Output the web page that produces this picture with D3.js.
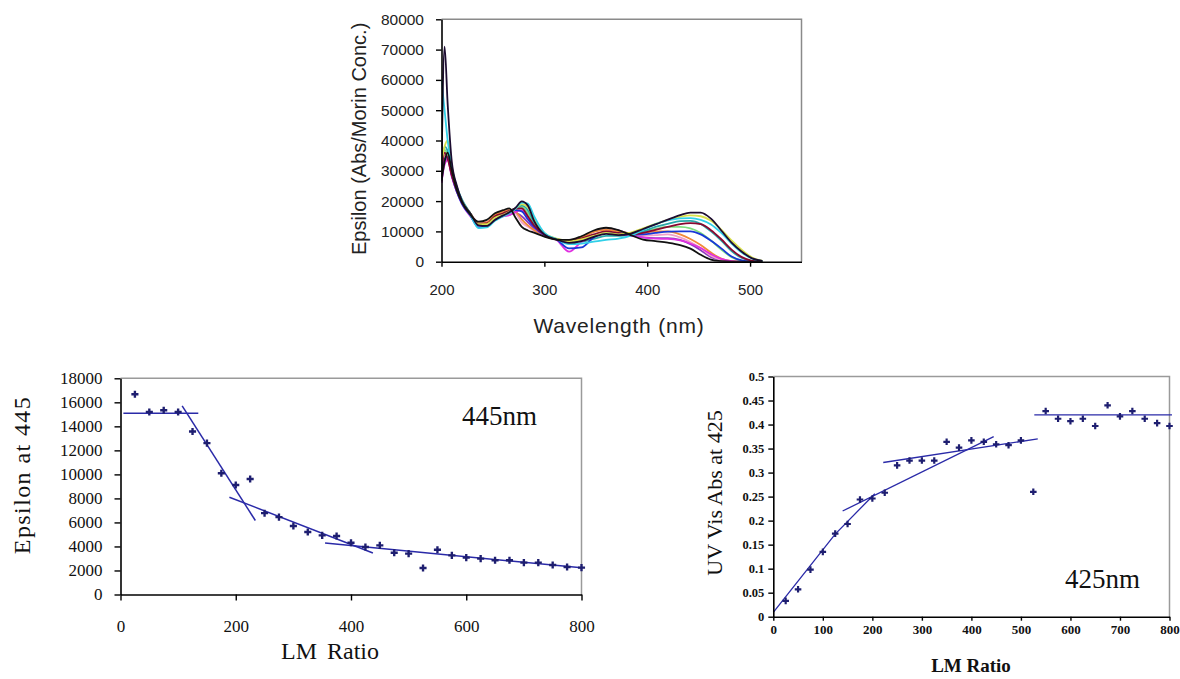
<!DOCTYPE html>
<html>
<head>
<meta charset="utf-8">
<script src="https://cdn.jsdelivr.net/npm/d3@7"></script>
<style>
  html, body { margin: 0; padding: 0; background: #fff; }
  svg { display: block; }
</style>
</head>
<body>
<script>
// ---------- Spectra (top panel) ----------
const wavelengths = [200,203,206,210,215,220,228,236,244,252,260,266,272,278,284,290,300,312,324,336,348,360,372,384,396,408,420,432,442,452,462,472,482,492,502,512];

const specPurple  = [26000,33000,34000,28500,23000,19500,15500,12500,13000,14500,15000,15500,16000,15000,13000,11000,8600,7400,6900,8000,10000,11000,10300,9000,8000,7800,7800,7200,5800,3800,1500,400,0,0,0,0];
const specPink    = [27500,35000,35500,30000,24000,20000,16000,13000,13100,15500,16500,17200,16000,13000,11500,10200,8500,7300,7100,8200,10000,11000,10200,9300,8600,8800,9000,8000,6500,4500,2000,600,100,0,0,0];
const specOrange  = [28000,36000,35500,29500,24000,20000,16000,12600,13000,15500,16500,17000,16500,14000,12000,10500,8600,7300,7000,8000,9800,10500,10000,9500,9600,10000,10000,9000,7500,5500,3000,1000,200,0,0,0];
const specGreen   = [28500,37000,35000,29500,24000,20000,16000,12200,12300,14800,15800,16800,17500,18000,16000,12500,9000,7400,6900,7500,8800,9800,9300,9200,9800,10800,11500,11500,11000,9500,7000,4000,1500,300,0,0];
const specTeal    = [29000,38000,36500,30000,24500,20500,16000,12000,12000,14500,15500,16500,17500,18500,17000,13000,9200,7400,6600,6700,7500,8500,8500,9000,10000,11500,12500,13400,13500,12500,10000,7000,3500,1200,200,0];
const specMagenta = [26000,32000,33500,28000,23000,19000,15000,12000,12400,14000,15000,15400,16400,17000,14500,11500,8700,7200,3300,6500,8500,9500,9200,8500,8000,7600,7500,7000,6000,4500,2500,900,200,0,0,0];
const specBlue    = [27000,34000,34500,28500,23000,19000,15300,11300,11800,14400,15500,16400,17000,16600,14000,11500,8800,7300,4400,4700,8000,9500,9400,8900,9000,9500,9900,10000,10000,9000,6900,4400,1700,400,0,0];
const specMaroon  = [28000,36000,34000,28500,23500,19500,15800,12500,12600,15000,16000,16800,17500,17600,15000,12000,9000,7400,6800,7700,9000,10000,9500,9000,9500,10500,11500,12400,12700,12400,10400,7400,4000,1500,300,0];
const specYellow  = [33000,38000,40000,31000,24000,20000,15800,12400,12400,14500,15500,16500,17500,19000,18000,14000,9500,7600,6800,7400,8500,9500,9000,9600,11000,12500,13800,14800,15300,15000,13500,10600,7000,3900,1400,300];
const specCyan    = [60000,50000,40000,31000,24500,20000,15500,11100,11300,13500,15000,16000,17500,19500,19200,15000,9500,7400,5800,6000,6600,7200,7600,8600,10500,12400,13600,14300,14400,13800,12300,9500,6000,3000,1000,200];
const specFree    = [26500,33000,36000,30000,23500,19500,15500,13200,13800,16000,17000,17600,14500,11500,10300,9600,8300,7300,7200,8400,10300,11200,10400,8800,7300,6800,6300,5500,4300,2300,700,150,0,0,0,0];
const specBound   = [30000,71000,52000,33000,25000,20000,16000,12000,11800,13800,15300,16300,17800,19900,18500,13500,9000,7300,6200,6800,8200,9200,8800,9300,10800,12300,13900,15400,16200,16200,14200,10300,6300,3300,1100,300];

const spectra = [specPurple, specPink, specOrange, specGreen, specTeal, specMagenta,
                 specBlue, specMaroon, specYellow, specCyan, specBound, specFree];
const spectrumColors = ["#8a3cc0","#f2a0c8","#f08a3a","#7ee07e","#2aa8a8","#e030e0",
                        "#1838d8","#880830","#d8e04a","#30d0e8","#1c0c30","#111111"];

const wlTicks = [200, 300, 400, 500];
const epsTicks = [0,10000,20000,30000,40000,50000,60000,70000,80000];

// ---------- Epsilon at 445 nm vs LM ratio (bottom left) ----------
const lmRatio = [25,50,75,100,125,150,175,200,225,250,275,300,325,350,375,400,425,450,475,500,525,550,575,600,625,650,675,700,725,750,775,800];
const eps445  = [16670,15200,15340,15200,13575,12600,10090,9120,9620,6770,6440,5700,5200,4920,4870,4310,3950,4090,3480,3400,2210,3730,3260,3070,2990,2850,2850,2650,2650,2460,2290,2240];
const fit445  = [
  [[5,15100],[135,15100]],
  [[107,15700],[234,6160]],
  [[189,8100],[438,3450]],
  [[355,4280],[800,2220]]
];
const ratioTicksL = [0,200,400,600,800];
const eps445Ticks = [0,2000,4000,6000,8000,10000,12000,14000,16000,18000];

// ---------- UV-Vis absorbance at 425 nm vs LM ratio (bottom right) ----------
const abs425 = [0.033,0.057,0.098,0.135,0.173,0.193,0.244,0.246,0.258,0.315,0.325,0.325,0.325,0.364,0.352,0.367,0.364,0.359,0.357,0.367,0.260,0.428,0.412,0.407,0.412,0.397,0.440,0.417,0.428,0.412,0.403,0.397];
const fit425 = [
  [[0,0.009],[125,0.172],[205,0.256]],
  [[140,0.220],[445,0.375]],
  [[222,0.321],[534,0.370]],
  [[527,0.420],[805,0.420]]
];
const ratioTicksR = [0,100,200,300,400,500,600,700,800];
const absTicks = [0,0.05,0.1,0.15,0.2,0.25,0.3,0.35,0.4,0.45,0.5];
const absTickLabels = ["0","0.05","0.1","0.15","0.2","0.25","0.3","0.35","0.4","0.45","0.5"];

// ---------- drawing ----------
const svg = d3.select("body").append("svg")
  .attr("width", 1180).attr("height", 679);

const sans = "'Liberation Sans', Arial, sans-serif";
const serif = "'Liberation Serif', 'Times New Roman', serif";
const markColor = "#1e1e70";
const fitColor = "#2a2aa8";

function frame(g, x, y, color) {
  const [x0, x1] = x.range();
  const [y0, y1] = y.range();
  g.append("path")
    .attr("d", `M${x0},${y1}H${x1}V${y0}`)
    .attr("fill", "none").attr("stroke", color).attr("stroke-width", 1.5);
}

function styleAxis(g, font, size, weight, color) {
  g.select(".domain").attr("stroke", "#000").attr("stroke-width", 1.6);
  g.selectAll(".tick line").attr("stroke", "#000").attr("stroke-width", 1.4);
  g.selectAll(".tick text")
    .attr("font-family", font).attr("font-size", size)
    .attr("font-weight", weight).attr("fill", color);
}

// Top panel: absorption spectra
{
  const x = d3.scaleLinear().domain([200, 550]).range([441.5, 801.5]);
  const y = d3.scaleLinear().domain([0, 80000]).range([261.7, 19.3]);
  const g = svg.append("g");

  svg.append("defs").append("clipPath").attr("id", "specClip")
    .append("rect").attr("x", 441.5).attr("y", 19.3)
    .attr("width", 360).attr("height", 242.4);

  frame(g, x, y, "#8a8a8a");

  const line = d3.line()
    .x((d, i) => x(wavelengths[i]))
    .y(d => y(d))
    .curve(d3.curveMonotoneX);

  g.append("g").attr("clip-path", "url(#specClip)")
    .selectAll("path").data(spectra).join("path")
    .attr("d", line)
    .attr("fill", "none")
    .attr("stroke", (d, i) => spectrumColors[i])
    .attr("stroke-width", 1.8)
    .attr("stroke-linejoin", "round");

  const ax = g.append("g").attr("transform", "translate(0,261.7)")
    .call(d3.axisBottom(x).tickValues(wlTicks).tickSize(5).tickSizeOuter(0).tickPadding(18));
  styleAxis(ax, sans, 15, "normal", "#222");

  const ay = g.append("g").attr("transform", "translate(441.5,0)")
    .call(d3.axisLeft(y).tickValues(epsTicks).tickSize(5.5).tickSizeOuter(0).tickPadding(12)
      .tickFormat(d3.format("d")));
  styleAxis(ay, sans, 15.5, "normal", "#222");

  g.append("text")
    .attr("x", 619).attr("y", 333)
    .attr("text-anchor", "middle")
    .attr("font-family", sans).attr("font-size", 21).attr("letter-spacing", 0.8)
    .attr("fill", "#222")
    .text("Wavelength (nm)");

  g.append("text")
    .attr("transform", "translate(366,255) rotate(-90)")
    .attr("text-anchor", "start")
    .attr("font-family", sans).attr("font-size", 20)
    .attr("fill", "#222")
    .text("Epsilon (Abs/Morin Conc.)");
}

// Bottom left: epsilon at 445 nm
{
  const x = d3.scaleLinear().domain([0, 800]).range([120.5, 581.5]);
  const y = d3.scaleLinear().domain([0, 18000]).range([594.5, 378.3]);
  const g = svg.append("g");
  frame(g, x, y, "#9a9a9a");

  const fitLine = d3.line().x(d => x(d[0])).y(d => y(d[1]));
  g.append("g").selectAll("path").data(fit445).join("path")
    .attr("d", fitLine).attr("fill", "none")
    .attr("stroke", fitColor).attr("stroke-width", 1.5);

  const sym = d3.symbol().type(d3.symbolCross).size(28);
  g.append("g").selectAll("path").data(eps445).join("path")
    .attr("transform", (d, i) => `translate(${x(lmRatio[i])},${y(d)})`)
    .attr("d", sym).attr("fill", markColor);

  const ax = g.append("g").attr("transform", "translate(0,594.5)")
    .call(d3.axisBottom(x).tickValues(ratioTicksL).tickSize(6).tickSizeOuter(0).tickPadding(19));
  styleAxis(ax, serif, 17, "normal", "#111");

  const ay = g.append("g").attr("transform", "translate(120.5,0)")
    .call(d3.axisLeft(y).tickValues(eps445Ticks).tickSize(6).tickSizeOuter(0).tickPadding(12)
      .tickFormat(d3.format("d")));
  styleAxis(ay, serif, 17, "normal", "#111");

  g.append("text")
    .attr("x", 330).attr("y", 659)
    .attr("text-anchor", "middle")
    .attr("font-family", serif).attr("font-size", 24)
    .attr("word-spacing", 4).attr("fill", "#111")
    .text("LM Ratio");

  g.append("text")
    .attr("transform", "translate(30,475) rotate(-90)")
    .attr("text-anchor", "middle")
    .attr("font-family", serif).attr("font-size", 24).attr("letter-spacing", 1.4)
    .attr("fill", "#111")
    .text("Epsilon at 445");

  g.append("text")
    .attr("x", 462).attr("y", 425)
    .attr("font-family", serif).attr("font-size", 27).attr("fill", "#111")
    .text("445nm");
}

// Bottom right: absorbance at 425 nm
{
  const x = d3.scaleLinear().domain([0, 800]).range([773.3, 1169.5]);
  const y = d3.scaleLinear().domain([0, 0.5]).range([616.7, 376.5]);
  const g = svg.append("g");
  frame(g, x, y, "#9a9a9a");

  const fitLine = d3.line().x(d => x(d[0])).y(d => y(d[1]));
  g.append("g").selectAll("path").data(fit425).join("path")
    .attr("d", fitLine).attr("fill", "none")
    .attr("stroke", fitColor).attr("stroke-width", 1.3);

  const sym = d3.symbol().type(d3.symbolCross).size(24);
  g.append("g").selectAll("path").data(abs425).join("path")
    .attr("transform", (d, i) => `translate(${x(lmRatio[i])},${y(d)})`)
    .attr("d", sym).attr("fill", markColor);

  const ax = g.append("g").attr("transform", "translate(0,616.7)")
    .call(d3.axisBottom(x).tickValues(ratioTicksR).tickSize(4).tickSizeOuter(0).tickPadding(4));
  styleAxis(ax, serif, 13, "bold", "#111");

  const ay = g.append("g").attr("transform", "translate(773.3,0)")
    .call(d3.axisLeft(y).tickValues(absTicks).tickSize(5).tickSizeOuter(0).tickPadding(4)
      .tickFormat((d, i) => absTickLabels[i]));
  styleAxis(ay, serif, 12.5, "bold", "#111");

  g.append("text")
    .attr("x", 971).attr("y", 672)
    .attr("text-anchor", "middle")
    .attr("font-family", serif).attr("font-size", 19).attr("font-weight", "bold")
    .attr("fill", "#111")
    .text("LM Ratio");

  g.append("text")
    .attr("transform", "translate(722,493) rotate(-90)")
    .attr("text-anchor", "middle")
    .attr("font-family", serif).attr("font-size", 22)
    .attr("fill", "#111")
    .text("UV Vis Abs at 425");

  g.append("text")
    .attr("x", 1065).attr("y", 588)
    .attr("font-family", serif).attr("font-size", 27).attr("fill", "#111")
    .text("425nm");
}
</script>
</body>
</html>
